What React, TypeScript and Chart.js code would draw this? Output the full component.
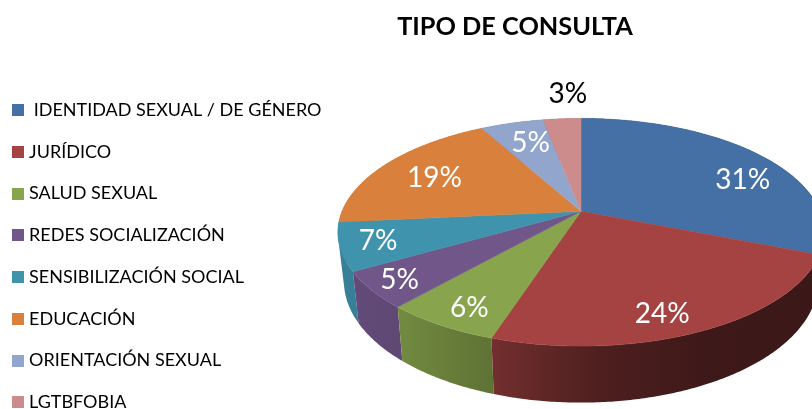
import React, { useEffect, useRef } from "react";
import { Chart, registerables } from "chart.js";

Chart.register(...registerables);

const categories = [
  " IDENTIDAD SEXUAL / DE GÉNERO",
  "JURÍDICO",
  "SALUD SEXUAL",
  "REDES SOCIALIZACIÓN",
  "SENSIBILIZACIÓN SOCIAL",
  "EDUCACIÓN",
  "ORIENTACIÓN SEXUAL",
  "LGTBFOBIA",
];
const values = [31, 24, 6.49, 5.2, 6.8, 18.51, 5, 3];
const colors = ["#4570a5", "#a54342", "#88a44c", "#71568a", "#4093ad", "#d9813c", "#92a6cd", "#cd8c8c"];
const labelColors = ["#fff", "#fff", "#fff", "#fff", "#fff", "#fff", "#fff", "#000"];

// Perspective projection of the pie disc
const APEX = { x: 581, y: 211.3 };
const AX = 239;
const AY = 110;
const K = 0.184;
const LOWER = { sx: 0.975, sy: 1.066, dy: 47.6 };
const LABEL_ELLIPSE = { x: 581, y: 231, rx: 193, ry: 91 };
const LABEL_NUDGE: [number, number][] = [
  [2, 0], [-1, 1], [-16, -2], [-32, -9], [-19, -18], [24, -10], [15, -2], [5, -46],
];
const SHADE: [number, number][] = [
  [338, 0.88], [400, 0.84], [490, 0.7], [600, 0.47], [700, 0.38], [824, 0.36],
];

function project(a: number) {
  const X = Math.cos(a);
  const Y = Math.sin(a);
  const w = 1 - K * Y;
  return { x: (AX * X) / w, y: (AY * Y) / w };
}

function shade(hex: string, f: number) {
  const n = parseInt(hex.slice(1), 16);
  const r = Math.round(((n >> 16) & 255) * f);
  const g = Math.round(((n >> 8) & 255) * f);
  const b = Math.round((n & 255) * f);
  return `rgb(${r},${g},${b})`;
}

function swatch(color: string) {
  const c = document.createElement("canvas");
  c.width = 12;
  c.height = 12;
  const g = c.getContext("2d")!;
  g.fillStyle = color;
  g.fillRect(0, 0, 12, 12);
  return c;
}

const pie3d = {
  id: "pie3d",
  afterLayout(chart: any) {
    const t = chart.titleBlock;
    t.left = 218;
    t.right = 812;
    const l = chart.legend;
    l.left = -7.7;
    l.top = 77.3;
    l.bottom = 2000;
    l.right = 400;
  },
  beforeDatasetDraw(chart: any, args: any) {
    const ctx: CanvasRenderingContext2D = chart.ctx;
    const arcs = args.meta.data;
    const sample = (el: any) => {
      const pts: { x: number; y: number }[] = [];
      const n = Math.max(2, Math.ceil((el.endAngle - el.startAngle) / 0.01));
      for (let i = 0; i <= n; i++) {
        pts.push(project(el.startAngle + ((el.endAngle - el.startAngle) * i) / n));
      }
      return pts;
    };
    const midY = (el: any) => Math.sin((el.startAngle + el.endAngle) / 2);
    ctx.save();
    // side wall, back to front: same-winding quads in one path, so the strip's fold stays filled
    const order = arcs.map((_: any, i: number) => i).sort((a: number, b: number) => midY(arcs[a]) - midY(arcs[b]));
    order.forEach((i: number) => {
      const pts = sample(arcs[i]);
      const grad = ctx.createLinearGradient(338, 0, 824, 0);
      SHADE.forEach(([x, f]) => grad.addColorStop((x - 338) / (824 - 338), shade(colors[i], f)));
      ctx.fillStyle = grad;
      ctx.beginPath();
      for (let j = 0; j < pts.length - 1; j++) {
        const a = pts[j];
        const b = pts[j + 1];
        const quad = [
          [APEX.x + a.x, APEX.y + a.y],
          [APEX.x + b.x, APEX.y + b.y],
          [APEX.x + b.x * LOWER.sx, APEX.y + b.y * LOWER.sy + LOWER.dy],
          [APEX.x + a.x * LOWER.sx, APEX.y + a.y * LOWER.sy + LOWER.dy],
        ];
        let area = 0;
        quad.forEach((p, k) => {
          const q = quad[(k + 1) % 4];
          area += p[0] * q[1] - q[0] * p[1];
        });
        if (area < 0) quad.reverse();
        quad.forEach((p, k) => (k === 0 ? ctx.moveTo(p[0], p[1]) : ctx.lineTo(p[0], p[1])));
        ctx.closePath();
      }
      ctx.fill("nonzero");
    });
    // top face
    arcs.forEach((el: any, i: number) => {
      const pts = sample(el);
      ctx.fillStyle = colors[i];
      ctx.strokeStyle = colors[i];
      ctx.lineWidth = 0.5;
      ctx.beginPath();
      ctx.moveTo(APEX.x, APEX.y);
      pts.forEach((p) => ctx.lineTo(APEX.x + p.x, APEX.y + p.y));
      ctx.closePath();
      ctx.fill();
      ctx.stroke();
    });
    // value labels
    ctx.font = "28px Lato";
    ctx.textAlign = "center";
    ctx.textBaseline = "middle";
    arcs.forEach((el: any, i: number) => {
      const mid = (el.startAngle + el.endAngle) / 2;
      const x = LABEL_ELLIPSE.x + LABEL_ELLIPSE.rx * Math.cos(mid) + LABEL_NUDGE[i][0];
      const y = LABEL_ELLIPSE.y + LABEL_ELLIPSE.ry * Math.sin(mid) + LABEL_NUDGE[i][1];
      ctx.fillStyle = labelColors[i];
      ctx.fillText(`${Math.round(values[i])}%`, x, y);
    });
    ctx.restore();
    return false;
  },
};

export default function App() {
  const ref = useRef<HTMLCanvasElement>(null);
  useEffect(() => {
    const chart = new Chart(ref.current!, {
      type: "pie",
      data: {
        labels: categories,
        datasets: [{ data: values, backgroundColor: colors, borderWidth: 0 }],
      },
      options: {
        responsive: false,
        animation: false,
        devicePixelRatio: 1,
        plugins: {
          tooltip: { enabled: false },
          title: {
            display: true,
            text: "TIPO DE CONSULTA",
            color: "#000",
            font: { family: "Lato", size: 25.3, weight: "bold" },
            padding: { top: 12, bottom: 0 },
          },
          legend: {
            display: true,
            position: "left",
            align: "start",
            labels: {
              usePointStyle: true,
              pointStyleWidth: 4,
              boxHeight: 12,
              padding: 23.75,
              color: "#000",
              font: { family: "Lato", size: 18 },
              generateLabels: () =>
                categories.map((text, i) => ({
                  text,
                  fillStyle: colors[i],
                  strokeStyle: colors[i],
                  lineWidth: 0,
                  pointStyle: swatch(colors[i]),
                  hidden: false,
                  index: i,
                })),
            },
          },
        },
      } as any,
      plugins: [pie3d as any],
    });
    return () => chart.destroy();
  }, []);
  return (
    <canvas
      ref={ref}
      width={812}
      height={409}
      style={{ position: "absolute", left: 0, top: 0, display: "block" }}
    />
  );
}
